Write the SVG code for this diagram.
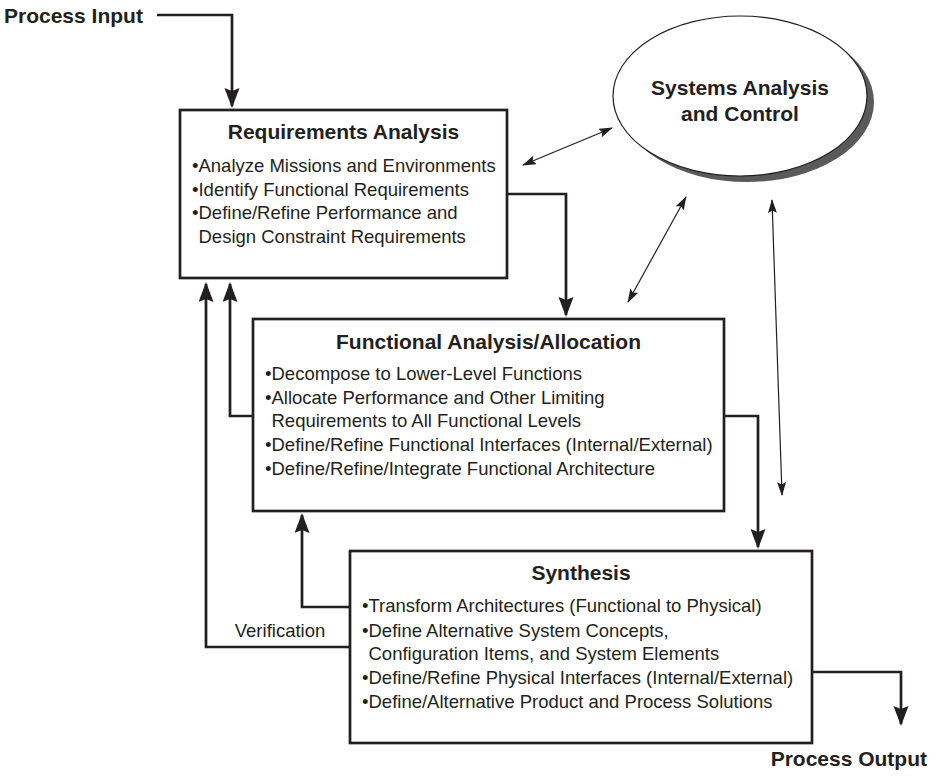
<svg xmlns="http://www.w3.org/2000/svg" width="936" height="779" viewBox="0 0 936 779">
<style>
.box{fill:#fff;stroke:#231f20;stroke-width:2.7}
.conn{fill:none;stroke:#231f20;stroke-width:2.7}
.thin{fill:none;stroke:#231f20;stroke-width:1.2}
.ttl{font-family:"Liberation Sans",Arial,sans-serif;font-weight:bold;font-size:21px;fill:#231f20}
.txt{font-family:"Liberation Sans",Arial,sans-serif;font-size:18.5px;fill:#231f20}
</style>
<defs>
<marker id="ah" markerUnits="userSpaceOnUse" markerWidth="20" markerHeight="16" refX="18" refY="7.5" orient="auto">
<path d="M0,0 L20,7.5 L0,15 L3,7.5 z" fill="#231f20"/>
</marker>
<marker id="th" markerUnits="userSpaceOnUse" markerWidth="14" markerHeight="10" refX="13" refY="4.5" orient="auto-start-reverse">
<path d="M0,0 L14,4.5 L0,9 L2.5,4.5 z" fill="#231f20"/>
</marker>
</defs>

<g id="connectors">
<path class="conn" d="M157,15 H232 V106" marker-end="url(#ah)"/>
<path class="conn" d="M507,194 H566 V315" marker-end="url(#ah)"/>
<path class="conn" d="M253,416 H230 V284" marker-end="url(#ah)"/>
<path class="conn" d="M350,647 H206 V284" marker-end="url(#ah)"/>
<path class="conn" d="M350,607 H302 V515" marker-end="url(#ah)"/>
<path class="conn" d="M724,416 H758 V547" marker-end="url(#ah)"/>
<path class="conn" d="M812,672 H901 V724" marker-end="url(#ah)"/>
<line class="thin" x1="523" y1="165" x2="612" y2="128" marker-start="url(#th)" marker-end="url(#th)"/>
<line class="thin" x1="628" y1="302" x2="686" y2="197" marker-start="url(#th)" marker-end="url(#th)"/>
<line class="thin" x1="772" y1="200" x2="782" y2="495" marker-start="url(#th)" marker-end="url(#th)"/>
<text class="txt" x="280" y="637" text-anchor="middle">Verification</text>
</g>

<g id="process-input">
<text class="ttl" x="4" y="23">Process Input</text>
</g>

<g id="process-output">
<text class="ttl" x="927" y="766" text-anchor="end">Process Output</text>
</g>

<g id="systems-analysis">
<ellipse cx="747" cy="102" rx="127" ry="80" fill="#5a5a5a"/>
<ellipse cx="740" cy="96" rx="127" ry="80" fill="#fff" stroke="#231f20" stroke-width="1.2"/>
<text class="ttl" x="740" y="95" text-anchor="middle">Systems Analysis</text>
<text class="ttl" x="740" y="121" text-anchor="middle">and Control</text>
</g>

<g id="requirements-analysis">
<rect class="box" x="180" y="110" width="327" height="168"/>
<text class="ttl" x="343.5" y="139" text-anchor="middle">Requirements Analysis</text>
<text class="txt" x="192" y="172">•Analyze Missions and Environments</text>
<text class="txt" x="192" y="195.5">•Identify Functional Requirements</text>
<text class="txt" x="192" y="219">•Define/Refine Performance and</text>
<text class="txt" x="198.5" y="242.5">Design Constraint Requirements</text>
</g>

<g id="functional-analysis">
<rect class="box" x="253" y="319" width="471" height="192"/>
<text class="ttl" x="488.5" y="349" text-anchor="middle">Functional Analysis/Allocation</text>
<text class="txt" x="265" y="380">•Decompose to Lower-Level Functions</text>
<text class="txt" x="265" y="403.5">•Allocate Performance and Other Limiting</text>
<text class="txt" x="271.5" y="427">Requirements to All Functional Levels</text>
<text class="txt" x="265" y="451">•Define/Refine Functional Interfaces (Internal/External)</text>
<text class="txt" x="265" y="475">•Define/Refine/Integrate Functional Architecture</text>
</g>

<g id="synthesis">
<rect class="box" x="350" y="551" width="462" height="192"/>
<text class="ttl" x="581" y="580" text-anchor="middle">Synthesis</text>
<text class="txt" x="362" y="612">•Transform Architectures (Functional to Physical)</text>
<text class="txt" x="362" y="636.5">•Define Alternative System Concepts,</text>
<text class="txt" x="368.5" y="660">Configuration Items, and System Elements</text>
<text class="txt" x="362" y="684">•Define/Refine Physical Interfaces (Internal/External)</text>
<text class="txt" x="362" y="708">•Define/Alternative Product and Process Solutions</text>
</g>
</svg>
